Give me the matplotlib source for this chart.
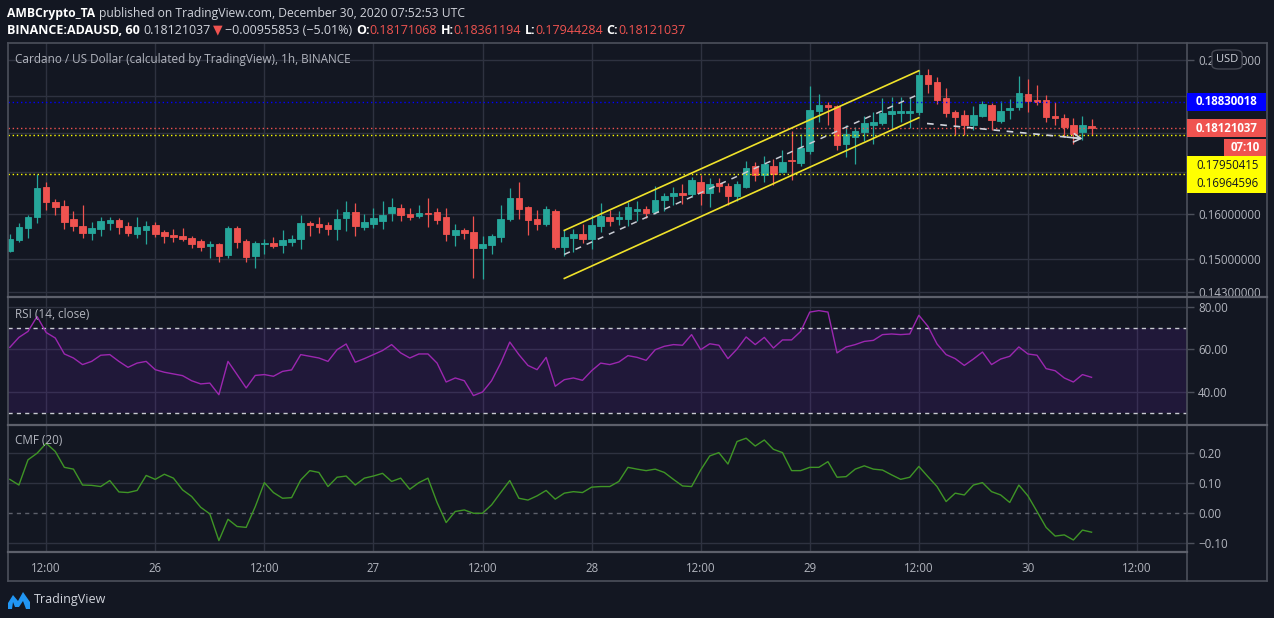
import numpy as np
import matplotlib.pyplot as plt
from matplotlib import transforms
from matplotlib.lines import Line2D
from matplotlib.patches import Rectangle, FancyBboxPatch, Polygon
from matplotlib.ticker import NullLocator, NullFormatter

plt.rcParams["font.family"] = ["Open Sans", "DejaVu Sans"]

# hourly ADA/USD candles, first one is Dec 25 08:00 UTC (x = hours after Dec 25 00:00)
first_hour = 8

opens = [
    0.15165, 0.15404, 0.15683, 0.15937, 0.16644, 0.16283, 0.16188, 0.15884, 0.15722, 0.15569,
    0.15660, 0.15798, 0.15860, 0.15722, 0.15546, 0.15637, 0.15745, 0.15584, 0.15517, 0.15494,
    0.15449, 0.15381, 0.15270, 0.15314, 0.15076, 0.15676, 0.15381, 0.15054, 0.15321, 0.15336,
    0.15298, 0.15359, 0.15426, 0.15798, 0.15768, 0.15745, 0.15660, 0.15907, 0.16047, 0.15699,
    0.15768, 0.15837, 0.16023, 0.16141, 0.16000, 0.15953, 0.16023, 0.16047, 0.15930, 0.15523,
    0.15630, 0.15584, 0.15225, 0.15292, 0.15471, 0.15884, 0.16379, 0.16165, 0.15884, 0.15768,
    0.16070, 0.15247, 0.15449, 0.15539, 0.15426, 0.15722, 0.15930, 0.15884, 0.15884, 0.16070,
    0.16117, 0.16047, 0.16331, 0.16427, 0.16499, 0.16475, 0.16766, 0.16499, 0.16742, 0.16668,
    0.16427, 0.16644, 0.17164, 0.16939, 0.17164, 0.17013, 0.17298, 0.17240, 0.17544, 0.18573,
    0.18737, 0.18709, 0.17724, 0.17906, 0.18038, 0.18197, 0.18250, 0.18492, 0.18519, 0.18519,
    0.18546, 0.19577, 0.19377, 0.18929, 0.18546, 0.18465, 0.18197, 0.18438, 0.18737, 0.18303,
    0.18600, 0.18682, 0.19041, 0.18874, 0.18874, 0.18438, 0.18384, 0.18197, 0.18038, 0.18171068,
]
highs = [
    0.15539, 0.15791, 0.15993, 0.16956, 0.16758, 0.16348, 0.16324, 0.16070, 0.16212, 0.15814,
    0.15930, 0.15946, 0.15907, 0.15814, 0.15930, 0.15837, 0.15814, 0.15630, 0.15653, 0.15676,
    0.15494, 0.15426, 0.15381, 0.15336, 0.15722, 0.15722, 0.15442, 0.15381, 0.15426, 0.15471,
    0.15630, 0.15517, 0.15977, 0.15837, 0.15930, 0.15814, 0.16117, 0.16307, 0.16260, 0.16000,
    0.16141, 0.16307, 0.16379, 0.16236, 0.16141, 0.16212, 0.16379, 0.16141, 0.16141, 0.15768,
    0.15676, 0.15953, 0.15494, 0.15539, 0.16212, 0.16620, 0.16766, 0.16188, 0.16094, 0.16188,
    0.16117, 0.15630, 0.15653, 0.15768, 0.15977, 0.16260, 0.16094, 0.16070, 0.16283, 0.16307,
    0.16188, 0.16668, 0.16499, 0.16644, 0.16717, 0.16889, 0.16939, 0.16864, 0.16864, 0.16742,
    0.16790, 0.17290, 0.17265, 0.17417, 0.17341, 0.17570, 0.18064, 0.17985, 0.19265, 0.19041,
    0.18819, 0.18737, 0.18223, 0.18170, 0.18438, 0.18546, 0.18929, 0.18957, 0.18957, 0.18929,
    0.19720, 0.19749, 0.19520, 0.19208, 0.18600, 0.18600, 0.18709, 0.18847, 0.18791, 0.18847,
    0.18902, 0.19548, 0.19463, 0.19293, 0.19013, 0.18819, 0.18492, 0.18384, 0.18438, 0.18361194,
]
lows = [
    0.15158, 0.15365, 0.15456, 0.15798, 0.16101, 0.15993, 0.15660, 0.15607, 0.15456, 0.15411,
    0.15501, 0.15637, 0.15546, 0.15501, 0.15456, 0.15321, 0.15478, 0.15343, 0.15365, 0.15388,
    0.15232, 0.15165, 0.15011, 0.14922, 0.15011, 0.15232, 0.14922, 0.14792, 0.15098, 0.15232,
    0.15120, 0.15270, 0.15209, 0.15501, 0.15569, 0.15523, 0.15411, 0.15607, 0.15501, 0.15630,
    0.15676, 0.15653, 0.15837, 0.15837, 0.15860, 0.15907, 0.15699, 0.15768, 0.15381, 0.15276,
    0.15433, 0.14592, 0.14571, 0.15098, 0.15359, 0.15837, 0.15884, 0.15517, 0.15630, 0.15722,
    0.15203, 0.15070, 0.15158, 0.15336, 0.15203, 0.15584, 0.15722, 0.15745, 0.15722, 0.15837,
    0.15907, 0.16000, 0.16070, 0.16212, 0.16236, 0.16403, 0.16212, 0.16165, 0.16523, 0.16212,
    0.16307, 0.16620, 0.16790, 0.16766, 0.16693, 0.16988, 0.16815, 0.17164, 0.17467, 0.18277,
    0.18223, 0.17570, 0.17391, 0.17214, 0.17802, 0.17724, 0.18197, 0.18144, 0.18277, 0.18144,
    0.18465, 0.19068, 0.18764, 0.18411, 0.17959, 0.17959, 0.18091, 0.18411, 0.18091, 0.18250,
    0.18357, 0.18600, 0.18546, 0.18737, 0.18277, 0.18197, 0.17906, 0.17724, 0.17828, 0.17944284,
]
closes = [
    0.15426, 0.15699, 0.15930, 0.16620, 0.16290, 0.16172, 0.15821, 0.15729, 0.15569, 0.15676,
    0.15837, 0.15860, 0.15706, 0.15569, 0.15699, 0.15722, 0.15546, 0.15501, 0.15471, 0.15433,
    0.15321, 0.15254, 0.15314, 0.15054, 0.15676, 0.15365, 0.15032, 0.15336, 0.15343, 0.15276,
    0.15404, 0.15426, 0.15791, 0.15752, 0.15699, 0.15660, 0.15884, 0.16047, 0.15722, 0.15814,
    0.15907, 0.15977, 0.16165, 0.15977, 0.15930, 0.16023, 0.16000, 0.15860, 0.15539, 0.15630,
    0.15562, 0.15225, 0.15314, 0.15494, 0.15884, 0.16379, 0.16117, 0.15860, 0.15768, 0.16117,
    0.15247, 0.15471, 0.15539, 0.15426, 0.15745, 0.15953, 0.15837, 0.15930, 0.16165, 0.16117,
    0.16023, 0.16331, 0.16427, 0.16499, 0.16451, 0.16815, 0.16499, 0.16717, 0.16668, 0.16427,
    0.16717, 0.17113, 0.16939, 0.17214, 0.16964, 0.17265, 0.17272, 0.17621, 0.18600, 0.18737,
    0.18682, 0.17699, 0.17985, 0.18064, 0.18250, 0.18277, 0.18519, 0.18573, 0.18573, 0.18573,
    0.19577, 0.19321, 0.18874, 0.18519, 0.18411, 0.18197, 0.18465, 0.18764, 0.18330, 0.18573,
    0.18655, 0.19068, 0.18847, 0.18819, 0.18411, 0.18384, 0.18170, 0.17985, 0.18223, 0.18121037,
]

rsi = [
    61, 65.7, 68.5, 75.5, 68, 65.4, 57.9, 56, 52.9, 54.4,
    57.3, 57.6, 54.4, 51.6, 53.6, 54.4, 50.5, 49.3, 48.5, 47.7,
    45.3, 43.8, 44.2, 38.7, 54.4, 48.2, 41.9, 47.8, 48.2, 47.4,
    49.7, 50.4, 57.6, 56.8, 56, 54.4, 59.9, 62.6, 54, 55.7,
    57.6, 59.5, 62.3, 58.4, 56, 57.9, 57.9, 53.6, 44.7, 46.6,
    45.3, 38.3, 40, 45.3, 53.6, 63.5, 57.6, 52.5, 50.5, 56.3,
    42.7, 45.8, 46.6, 45.5, 50, 53.6, 52.9, 54.1, 57.1, 56.3,
    54.9, 59.9, 61.5, 62.3, 62, 67, 59.9, 62.7, 62, 55.7,
    60.2, 65.9, 62.3, 65.7, 60.7, 64.5, 64.5, 68.5, 77.6, 78.3,
    77.6, 58.4, 61.2, 62.3, 63.8, 64.3, 67, 67.3, 67, 67.3,
    76.1, 70.9, 62.6, 57.6, 55.7, 52.5, 55.5, 58.8, 52.9, 55.5,
    56.8, 61.2, 57.9, 57.3, 51, 50, 46.6, 44.7, 48.2, 46.9,
]
cmf = [
    0.113, 0.094, 0.178, 0.2, 0.233, 0.206, 0.153, 0.147, 0.094, 0.093,
    0.089, 0.109, 0.071, 0.069, 0.076, 0.126, 0.113, 0.13, 0.117, 0.078,
    0.056, 0.02, -0.002, -0.091, -0.02, -0.044, -0.047, 0.022, 0.102, 0.069,
    0.05, 0.052, 0.111, 0.142, 0.136, 0.089, 0.12, 0.124, 0.094, 0.117,
    0.124, 0.133, 0.106, 0.117, 0.08, 0.102, 0.117, 0.036, -0.031, 0.006,
    0.011, 0.0, 0.0, 0.028, 0.069, 0.109, 0.05, 0.044, 0.058, 0.076,
    0.047, 0.067, 0.072, 0.069, 0.087, 0.089, 0.089, 0.106, 0.153, 0.147,
    0.142, 0.147, 0.136, 0.113, 0.091, 0.089, 0.144, 0.191, 0.202, 0.164,
    0.239, 0.25, 0.224, 0.244, 0.213, 0.202, 0.142, 0.142, 0.153, 0.153,
    0.172, 0.12, 0.122, 0.147, 0.158, 0.147, 0.144, 0.128, 0.113, 0.12,
    0.156, 0.122, 0.089, 0.039, 0.067, 0.061, 0.094, 0.102, 0.072, 0.061,
    0.036, 0.094, 0.058, 0.006, -0.047, -0.076, -0.072, -0.089, -0.056, -0.063,
]

tick_hours = [12, 24, 36, 48, 60, 72, 84, 96, 108, 120, 132]
tick_labels = ["12:00", "26", "12:00", "27", "12:00", "28", "12:00", "29", "12:00", "30", "12:00"]

# 0.17-0.19 labels sit under the price boxes in the original, so only their grid shows
price_ticks = [0.143, 0.15, 0.16, 0.17, 0.18, 0.19, 0.20]
price_tick_labels = ["0.14300000", "0.15000000", "0.16000000", "", "", "", "0.20000000"]
rsi_ticks = [40, 60, 80]
cmf_ticks = [-0.1, 0.0, 0.1, 0.2]
cmf_tick_labels = ["\u22120.10", "0.00", "0.10", "0.20"]

blue_level = 0.18830018
last_price = 0.18121037
yellow_levels = [0.17950415, 0.16964596]
countdown = "07:10"

# drawings on the chart
channel_hours = [69, 108]
channel_upper = [0.15630, 0.19700]
channel_lower = [0.14578, 0.18403]
arrow_hours = [108.9, 126.0]
arrow_prices = [0.18250, 0.17854]

# ---- style
W, H = 1274, 618
L, R = 8, 1187
BG = "#131722"
GRID = "#2e3240"
FRAME = "#4c505b"
TXT = "#b2b5be"
GREEN = "#26a69a"
RED = "#ef5350"
YELLOW = "#ffff00"
BLUE = "#0000ff"

fig = plt.figure(figsize=(W / 100, H / 100), dpi=100, facecolor=BG)


def add_pane(top, bottom):
    ax = fig.add_axes([L / W, 1 - bottom / H, (R - L) / W, (bottom - top) / H])
    ax.set_facecolor(BG)
    for s in ax.spines.values():
        s.set_visible(False)
    ax.set_xlim(7.8, 137.5)
    ax.set_xticks([])
    ax.yaxis.tick_right()
    ax.tick_params(axis="y", which="major", length=5, width=1, color=FRAME,
                   labelcolor=TXT, labelsize=8.3, pad=3)
    for h in tick_hours:
        ax.axvline(h, color=GRID, lw=1, zorder=0)
    return ax


def fig_line(x0, y0, x1, y1, color=FRAME, lw=1.2):
    fig.add_artist(Line2D([x0 / W, x1 / W], [1 - y0 / H, 1 - y1 / H],
                          transform=fig.transFigure, color=color, lw=lw, zorder=6))


def ftext(x, y, s, **kw):
    kw.setdefault("va", "center")
    return fig.text(x / W, 1 - y / H, s, **kw)


def box(x0, x1, yc, h, color):
    fig.add_artist(Rectangle((x0 / W, 1 - (yc + h / 2) / H), (x1 - x0) / W, h / H,
                             transform=fig.transFigure, facecolor=color,
                             edgecolor="none", zorder=7))


def px_y(ax, v):
    return H - ax.transData.transform((ax.get_xlim()[0], v))[1]


# ---- price pane
ax1 = add_pane(43, 297)
ax1.set_yscale("log")
ax1.set_ylim(0.14191, 0.20509)
ax1.set_yticks(price_ticks, labels=price_tick_labels)
ax1.yaxis.set_minor_locator(NullLocator())
ax1.yaxis.set_minor_formatter(NullFormatter())
for p in price_ticks:
    ax1.axhline(p, color=GRID, lw=1, zorder=0)

o, hi, lo, c = map(np.array, (opens, highs, lows, closes))
x = first_hour + np.arange(len(o))
col = np.where(c >= o, GREEN, RED)
ax1.vlines(x, lo, hi, colors=col, lw=0.9, zorder=2)
ax1.bar(x, np.abs(c - o), bottom=np.minimum(o, c), width=0.72, color=col,
        edgecolor=col, lw=0.6, zorder=2)

dots = (0, (1, 2))
ax1.axhline(blue_level, color=BLUE, lw=1, ls=dots, zorder=3)
ax1.axhline(last_price, color=RED, lw=1, ls=dots, zorder=3)
for lv in yellow_levels:
    ax1.axhline(lv, color=YELLOW, lw=1, ls=dots, zorder=3)

up, lw_ = np.array(channel_upper), np.array(channel_lower)
ax1.plot(channel_hours, up, color="#f0e22a", lw=1.2, zorder=4)
ax1.plot(channel_hours, lw_, color="#f0e22a", lw=1.2, zorder=4)
ax1.plot(channel_hours, np.sqrt(up * lw_), color="#c9ccd4", lw=1.1, ls=(0, (4, 4)), zorder=4)

ax1.plot(arrow_hours, arrow_prices, color="#d1d4dc", lw=1.2, ls=(0, (4, 4)), zorder=4)
t = 0.9
tail = (arrow_hours[0] + t * (arrow_hours[1] - arrow_hours[0]),
        arrow_prices[0] * (arrow_prices[1] / arrow_prices[0]) ** t)
ax1.annotate("", xy=(arrow_hours[1], arrow_prices[1]), xytext=tail,
             arrowprops=dict(arrowstyle="->,head_length=0.5,head_width=0.3",
                             color="#d1d4dc", lw=1.2, shrinkA=0, shrinkB=0), zorder=4)

ftext(15, 60, "Cardano / US Dollar (calculated by TradingView), 1h, BINANCE",
      color=TXT, fontsize=8.5)

# ---- RSI pane
ax2 = add_pane(297, 425)
ax2.set_ylim(24.47, 84.7)
ax2.set_yticks(rsi_ticks, labels=[f"{v:.2f}" for v in rsi_ticks])
for v in rsi_ticks:
    ax2.axhline(v, color=GRID, lw=1, zorder=0)
ax2.axhspan(30, 70, color="#701ec2", alpha=0.15, lw=0, zorder=1)
for v in (70, 30):
    ax2.axhline(v, color="#c8cad0", lw=1, ls=(0, (3, 3)), zorder=2)
ax2.plot(first_hour + np.arange(len(rsi)), rsi, color="#9c27b0", lw=1, zorder=3)
ftext(15, 315, "RSI (14, close)", color=TXT, fontsize=8.5)

# ---- CMF pane
ax3 = add_pane(425, 552)
ax3.set_ylim(-0.129, 0.294)
ax3.set_yticks(cmf_ticks, labels=cmf_tick_labels)
for v in cmf_ticks:
    if v == 0:
        ax3.axhline(v, color="#5d606b", lw=1, ls=(0, (3, 3)), zorder=0)
    else:
        ax3.axhline(v, color=GRID, lw=1, zorder=0)
ax3.plot(first_hour + np.arange(len(cmf)), cmf, color="#3f9526", lw=1, zorder=3)
ftext(15, 441, "CMF (20)", color=TXT, fontsize=8.5)

bt = transforms.blended_transform_factory(ax3.transData, fig.transFigure)
for h, lab in zip(tick_hours, tick_labels):
    fig.text(h, 1 - 568 / H, lab, transform=bt, ha="center", va="center",
             color=TXT, fontsize=8.3)

# ---- frame
fig_line(L, 43, 1267, 43)
fig_line(L, 43, L, 581)
fig_line(L, 581, 1267, 581)
fig_line(1267, 43, 1267, 581)
fig_line(R, 43, R, 581)
fig_line(L, 297, 1267, 297, color="#5d606b", lw=1.6)
fig_line(L, 425, 1267, 425, color="#5d606b", lw=1.6)
fig_line(L, 552, R, 552, color="#5d606b", lw=1.6)

# ---- price labels on the right axis
yb = px_y(ax1, blue_level)
box(R, 1266, yb, 18, BLUE)
ftext(1196, yb, f"{blue_level:.8f}", color="white", fontsize=8.3, fontweight="bold", zorder=8)
yr = px_y(ax1, last_price)
box(R, 1266, yr, 18, RED)
ftext(1196, yr, f"{last_price:.8f}", color="white", fontsize=8.3, fontweight="bold", zorder=8)
box(1224, 1266, yr + 19.5, 18, RED)
ftext(1245, yr + 19.5, countdown, color="white", fontsize=8.3, fontweight="bold",
      ha="center", zorder=8)
box(R, 1266, yr + 46.5, 37, YELLOW)
for k, lv in enumerate(yellow_levels):
    ftext(1196, yr + 37.5 + 18 * k, f"{lv:.8f}", color="#131722", fontsize=8.3, zorder=8)

fig.add_artist(FancyBboxPatch((1212 / W, 1 - 69 / H), 30 / W, 19 / H,
                              boxstyle="round,pad=0,rounding_size=0.006",
                              transform=fig.transFigure, facecolor=BG,
                              edgecolor="#434651", lw=1, zorder=8))
ftext(1227, 59.5, "USD", color="#d1d4dc", fontsize=8, ha="center", zorder=9)

# ---- header
def text_run(x, y, parts, size):
    r = fig.canvas.get_renderer()
    for s, color, weight, gap in parts:
        x += gap
        tx = ftext(x, y, s, color=color, fontsize=size, fontweight=weight)
        x += tx.get_window_extent(r).width


WH = "#d1d4dc"
text_run(7, 13, [("AMBCrypto_TA", "white", "bold", 0),
                 ("published on TradingView.com, December 30, 2020 07:52:53 UTC", WH, "normal", 3.5)], 8.75)
text_run(7, 30, [("BINANCE:ADAUSD, 60", "white", "bold", 0),
                 ("0.18121037", WH, "normal", 3.5),
                 ("\u25bc", RED, "normal", 2),
                 ("\u22120.00955853 (\u22125.01%)", WH, "normal", 3),
                 ("O:", "white", "bold", 3.5), ("0.18171068", RED, "normal", 0),
                 ("H:", "white", "bold", 3.5), ("0.18361194", RED, "normal", 0),
                 ("L:", "white", "bold", 3.5), ("0.17944284", RED, "normal", 0),
                 ("C:", "white", "bold", 3.5), ("0.18121037", RED, "normal", 0)], 9)

# ---- TradingView logo
logo = [(8, 609), (8, 603), (13, 595), (18, 601), (23, 592), (30, 602), (30, 609),
        (26, 609), (23, 601), (19, 607), (15, 607), (13, 602), (12, 609)]
fig.add_artist(Polygon([(a / W, 1 - b / H) for a, b in logo], closed=True,
                       transform=fig.transFigure, facecolor="#2196f3", edgecolor="none"))
ftext(34, 600, "TradingView", color="#d1d4dc", fontsize=9)

fig.savefig("out.png", dpi=100, facecolor=BG)
